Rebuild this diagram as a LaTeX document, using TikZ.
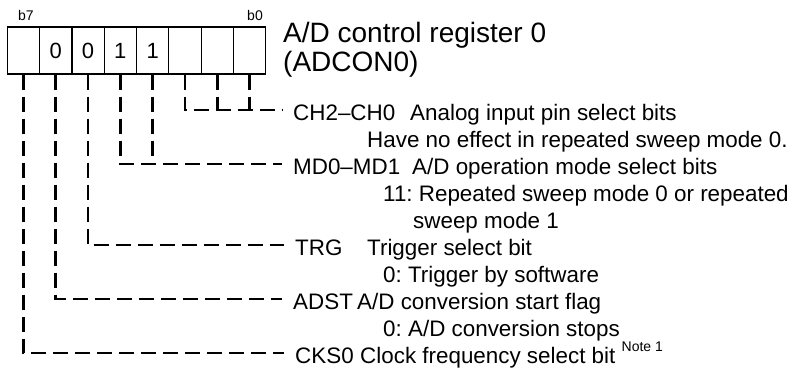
\documentclass[tikz,border=0pt]{standalone}
\usepackage{fontspec}
\setmainfont{Liberation Sans}
\usepackage{tikz}
\frenchspacing
\tikzset{
    bit-cell/.style = {draw, line width=1.2pt, rectangle, minimum width=32.3pt, minimum height=47pt, inner sep=0pt, font=\fontsize{22}{26}\selectfont},
    bit-label/.style = {inner sep=0pt, font=\fontsize{14}{16}\selectfont},
    reg-title/.style = {anchor=base west, inner sep=0pt, font=\fontsize{28}{32}\selectfont},
    field-key/.style = {anchor=west, inner xsep=11pt, inner ysep=0pt, text height=21pt, text depth=0pt, font=\fontsize{22.4}{26}\selectfont},
    field-text/.style = {anchor=west, inner sep=0pt, text height=21pt, text depth=0pt, font=\fontsize{22.4}{26}\selectfont},
    leader-line/.style = {line width=2.6pt, dash pattern=on 15pt off 7pt},
}

\begin{document}
\begin{tikzpicture}[x=1pt, y=-1pt]
\useasboundingbox (0,0) rectangle (794,372);

% register cells, b7 on the left
\foreach \b/\v in {7/,6/0,5/0,4/1,3/1,2/,1/,0/}
    \node[bit-cell] (c\b) at ({23.45+(7-\b)*32.3},50.5) {\v};
\node[bit-label] (lb7) at (26,15) {b7};
\node[bit-label] (lb0) at (255,15) {b0};

\node[reg-title] (title) at (283,42) {A/D control register 0};
\node[reg-title] (subtitle) at (283,71) {(ADCON0)};

% field names
\node[field-key] (ch) at (282,110) {CH2--CH0};
\node[field-key] (md) at (282,164) {MD0--MD1};
\node[field-key] (trg) at (284,245) {TRG};
\node[field-key] (adst) at (282,299) {ADST};
\node[field-key] (cks) at (284,353) {CKS0};

% field descriptions
\node[field-text] (chtxt) at (410,110) {Analog input pin select bits};
\node[field-text] (chval) at (367,137) {Have no effect in repeated sweep mode 0.};
\node[field-text] (mdtxt) at (412,164) {A/D operation mode select bits};
\node[field-text] (mdval) at (383,191) {11: Repeated sweep mode 0 or repeated};
\node[field-text] (mdval2) at (413,218) {sweep mode 1};
\node[field-text] (trgtxt) at (367,245) {Trigger select bit};
\node[field-text] (trgval) at (383,272) {0: Trigger by software};
\node[field-text] (adsttxt) at (357,299) {A/D conversion start flag};
\node[field-text] (adstval) at (383,326) {0: A/D conversion stops};
\node[field-text] (ckstxt) at (360,353) {Clock frequency select bit \raisebox{12pt}{\fontsize{14}{16}\selectfont Note 1}};

% leader lines
\draw[leader-line] (c2.south) |- (ch.west);
\draw[leader-line] (c1.south) -- (c1.south |- ch.west);
\draw[leader-line] (c0.south) -- (c0.south |- ch.west);
\draw[leader-line] (c4.south) |- (md.west);
\draw[leader-line] (c3.south) -- (c3.south |- md.west);
\draw[leader-line] (c5.south) |- (trg.west);
\draw[leader-line] (c6.south) |- (adst.west);
\draw[leader-line] (c7.south) |- (cks.west);
\end{tikzpicture}
\end{document}
